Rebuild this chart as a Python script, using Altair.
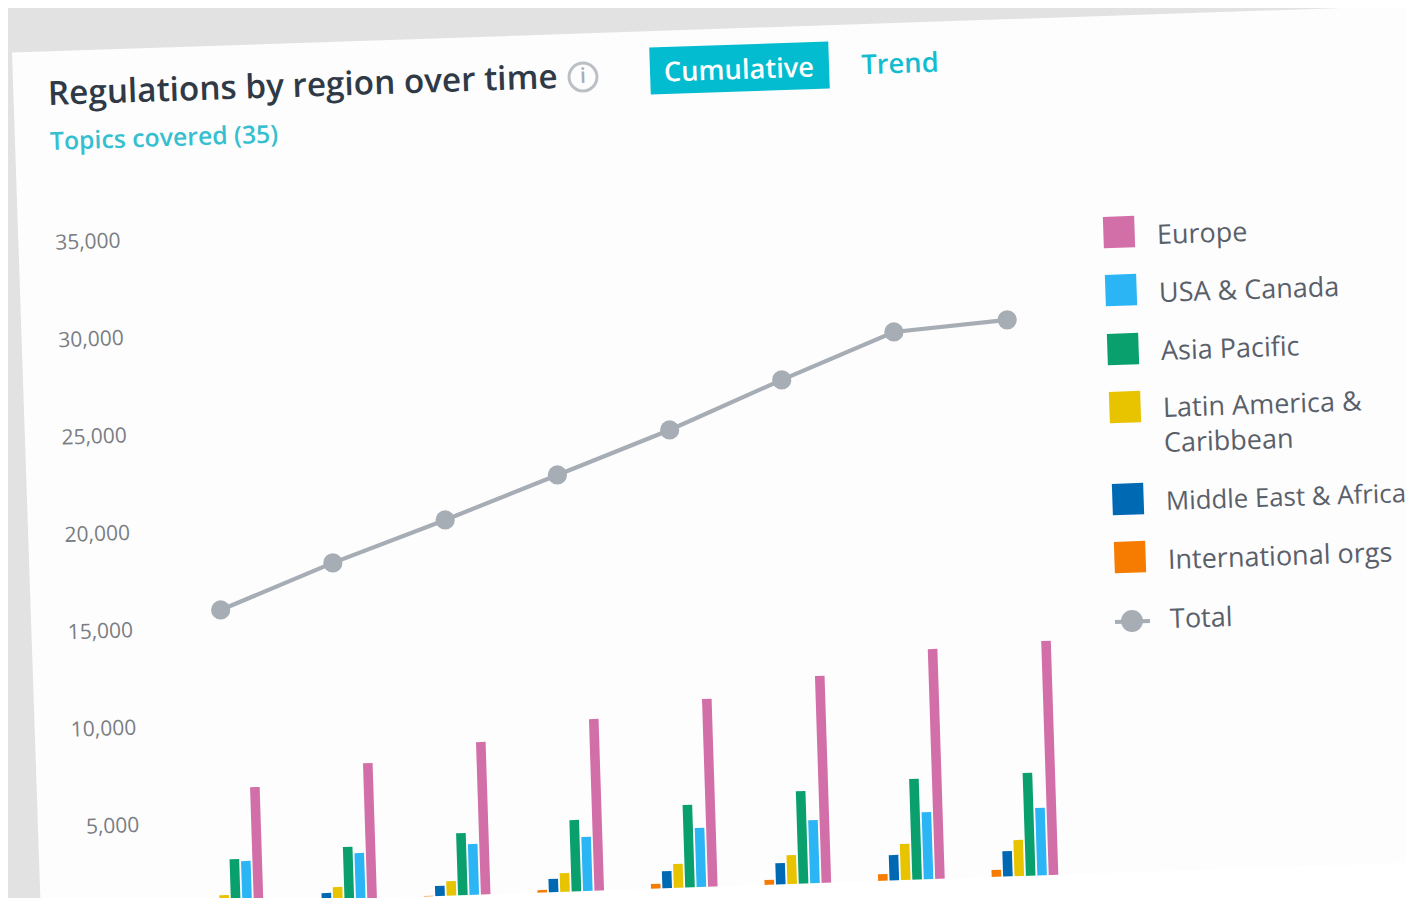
import altair as alt
import pandas as pd

# ---- values ----
periods = list(range(8))
europe = [6640, 7680, 8570, 9560, 10400, 11390, 12580, 12800]
usa_canada = [2860, 3080, 3350, 3520, 3790, 4000, 4220, 4240]
asia_pacific = [2980, 3410, 3930, 4410, 4990, 5510, 5940, 6060]
latin_america = [1150, 1370, 1480, 1700, 1980, 2240, 2620, 2630]
middle_east = [970, 1080, 1250, 1420, 1630, 1850, 2070, 2080]
intl_orgs = [300, 400, 765, 870, 990, 1000, 1110, 1130]
total = [15790, 18015, 20030, 22150, 24270, 26650, 28920, 29350]
tick_values = [5000, 10000, 15000, 20000, 25000, 30000, 35000]
series_names = ["International orgs", "Middle East & Africa", "Latin America & Caribbean",
                "Asia Pacific", "USA & Canada", "Europe"]
series_values = [intl_orgs, middle_east, latin_america, asia_pacific, usa_canada, europe]
series_colors = ["#f57c00", "#0069b4", "#e8c300", "#0aa06e", "#2cb5f5", "#d36fa8"]

# ---- the photographed page is tilted: value/period -> page position ----
PX_PER_UNIT = 0.01948
LEAN = 0.032
FONT = "Open Sans"
ANGLE = 358.1
GREY = "#a6adb4"
TEAL = "#14bccf"
TEXT = "#59606a"


def page_x(period, offset, value):
    return 230.5 + 113.57 * period + 11.4 * offset - LEAN * PX_PER_UNIT * value


def page_y(x, value):
    return 921 - 0.033 * (x - 116) - PX_PER_UNIT * value


X = alt.X("x:Q", scale=alt.Scale(domain=[8, 1406], nice=False, zero=False), axis=None)
Y = alt.Y("y:Q", scale=alt.Scale(domain=[898, 8], nice=False, zero=False), axis=None)

bar_rows = []
for j, (name, vals) in enumerate(zip(series_names, series_values)):
    for p, v in zip(periods, vals):
        off = j - 2.5
        x0 = page_x(p, off, 0)
        x1 = page_x(p, off, v)
        bar_rows.append(dict(region=name, x=x0, x2=x1, y=page_y(x0, 0), y2=page_y(x1, v)))
bars = alt.Chart(pd.DataFrame(bar_rows)).mark_rule(strokeWidth=9.6).encode(
    x=X, x2="x2:Q", y=Y, y2="y2:Q",
    color=alt.Color("region:N", legend=None,
                    scale=alt.Scale(domain=series_names, range=series_colors)),
)

line_rows = []
for p, v in zip(periods, total):
    x = page_x(p, 0, v)
    line_rows.append(dict(x=x, y=page_y(x, v)))
line_df = pd.DataFrame(line_rows)
total_line = alt.Chart(line_df).mark_line(color=GREY, strokeWidth=4.2).encode(x=X, y=Y)
total_pts = alt.Chart(line_df).mark_point(filled=True, color=GREY, opacity=1, size=370).encode(x=X, y=Y)


def band(x0, y0, x1, y1, width, color):
    df = pd.DataFrame([dict(x=x0, y=y0, x2=x1, y2=y1)])
    return alt.Chart(df).mark_rule(strokeWidth=width, color=color).encode(x=X, x2="x2:Q", y=Y, y2="y2:Q")


def label(text, x, y, size, color=TEXT, weight=400, align="left"):
    df = pd.DataFrame([dict(x=x, y=y, t=text)])
    return alt.Chart(df).mark_text(font=FONT, fontSize=size, color=color, fontWeight=weight,
                                   align=align, baseline="middle", angle=ANGLE).encode(x=X, y=Y, text="t:N")


def swatch(x, y, color):
    df = pd.DataFrame([dict(x=x, y=y)])
    return alt.Chart(df).mark_point(shape="square", filled=True, color=color, opacity=1,
                                    size=980, angle=ANGLE).encode(x=X, y=Y)


card = band(12 + 33.5, 52 + 1000, 3000, 52 + 1000 - 0.0335 * (3000 - 45.5), 2000, "#fdfdfe")
cut = band(150 + 2, 906 + 60, 1500, 906 + 60 - 0.0345 * (1500 - 152), 120, "#ffffff")

layers = [card, bars, cut, total_line, total_pts]

# y axis labels
for v in tick_values:
    xr = 142.5 - LEAN * PX_PER_UNIT * v
    layers.append(label(f"{v:,}", xr, page_y(90, v) + 1.5, 21, "#7a7d82", align="right"))

# header
layers.append(label("Regulations by region over time", 48, 95, 33.3, "#2f3a46", 600))
layers.append(alt.Chart(pd.DataFrame([dict(x=583, y=77)])).mark_point(
    shape="circle", filled=False, size=780, color="#bcc0c4", strokeWidth=3, opacity=1).encode(x=X, y=Y))
layers.append(label("i", 583, 77, 21, "#a8acb1", 600, "center"))
layers.append(label("Topics covered (35)", 50, 143, 24.8, "#35bfd0", 600))
layers.append(band(650, 71, 829, 65, 47, "#04bccf"))
layers.append(label("Cumulative", 739, 71, 27.3, "#ffffff", 600, "center"))
layers.append(label("Trend", 900, 65, 27.3, TEAL, 600, "center"))

# legend
legend_items = [
    ("Europe", 1119, 232, 1157, 236, 27, series_colors[5]),
    ("USA & Canada", 1121, 290, 1159, 294, 27, series_colors[4]),
    ("Asia Pacific", 1123, 349, 1161, 352, 27, series_colors[3]),
    ("Latin America &", 1125, 407, 1163, 409, 27, series_colors[2]),
    ("Middle East & Africa", 1128, 499, 1166, 502, 25.8, series_colors[1]),
    ("International orgs", 1130, 557, 1168, 561, 27, series_colors[0]),
]
for name, sx, sy, tx, ty, fs, c in legend_items:
    layers.append(swatch(sx, sy, c))
    layers.append(label(name, tx, ty, fs))
layers.append(label("Caribbean", 1164, 444, 27))
layers.append(band(1115, 622, 1150, 621, 4.2, GREY))
layers.append(alt.Chart(pd.DataFrame([dict(x=1132, y=621)])).mark_point(
    filled=True, color=GREY, opacity=1, size=480).encode(x=X, y=Y))
layers.append(label("Total", 1170, 620, 27))

chart = alt.layer(*layers).properties(
    width=1398, height=890, padding=0, background="#e2e2e2",
    autosize=alt.AutoSizeParams(type="none"),
).configure_view(stroke=None)

chart.save("out.html", embed_options={"renderer": "svg", "actions": False})
